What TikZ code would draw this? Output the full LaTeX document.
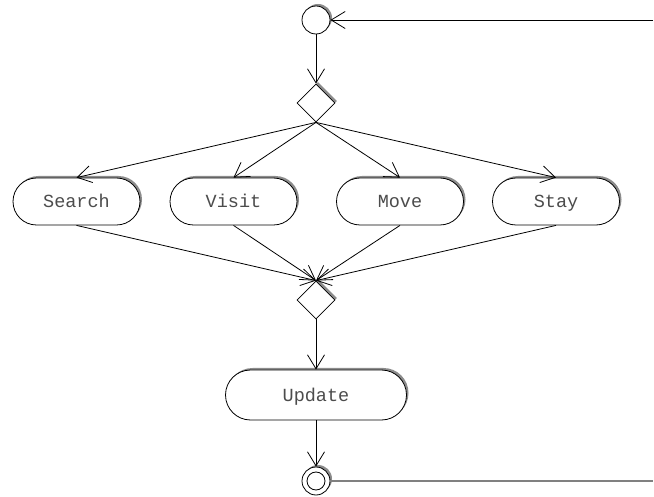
\documentclass[tikz,border=0pt]{standalone}
\usepackage{fontspec}
\setmonofont{Liberation Mono}
\usetikzlibrary{arrows.meta,shapes.geometric,shadows}
\begin{document}
\begin{tikzpicture}[x=1pt,y=-1pt,
  line width=0.8pt,
  flow/.style={-{Straight Barb[length=14pt,width=17pt,line width=0.8pt]}},
  sh/.style={drop shadow={shadow xshift=2pt,shadow yshift=2pt,fill=black!45,opacity=1}},
  task/.style={draw,fill=white,sh,rounded corners=23.5pt,minimum width=127pt,minimum height=47pt,
    inner sep=0pt,font=\ttfamily\fontsize{18.5}{20}\selectfont,text=black!70,
    text height=13pt,text depth=0pt},
  decision/.style={draw,fill=white,sh,diamond,minimum width=38pt,minimum height=38pt,inner sep=0pt},
  startnode/.style={draw,fill=white,sh,circle,minimum size=28pt,inner sep=0pt},
  endnode/.style={draw,fill=white,sh,circle,minimum size=28pt,inner sep=0pt,
    path picture={\draw (path picture bounding box.center) circle (9pt);}}]
\useasboundingbox (0,0) rectangle (654,497);

\node[startnode] (start) at (316,20) {};
\node[decision] (fork) at (316,103) {};
\node[task] (search) at (76.5,201.5) {Search};
\node[task] (visit) at (233.5,201.5) {Visit};
\node[task] (move) at (400,201.5) {Move};
\node[task] (stay) at (556,201.5) {Stay};
\node[decision] (join) at (316,300) {};
\node[task,minimum width=181pt,minimum height=50pt,rounded corners=25pt] (update) at (316,395) {Update};
\node[endnode] (stop) at (316,481) {};
\coordinate (loopin) at (653,20);
\coordinate (loopout) at (653,481);

\draw[flow] (loopin) -- (start.east);
\draw[flow] (start) -- (fork.north);
\foreach \t in {search,visit,move,stay}{
  \draw[flow] (fork.south) -- (\t.north);
  \draw[flow] (\t.south) -- (join.north);
}
\draw[flow] (join.south) -- (update.north);
\draw[flow] (update.south) -- (stop.north);
\draw[black!50,line width=1.2pt] (stop.east) -- (loopout);
\end{tikzpicture}
\end{document}
